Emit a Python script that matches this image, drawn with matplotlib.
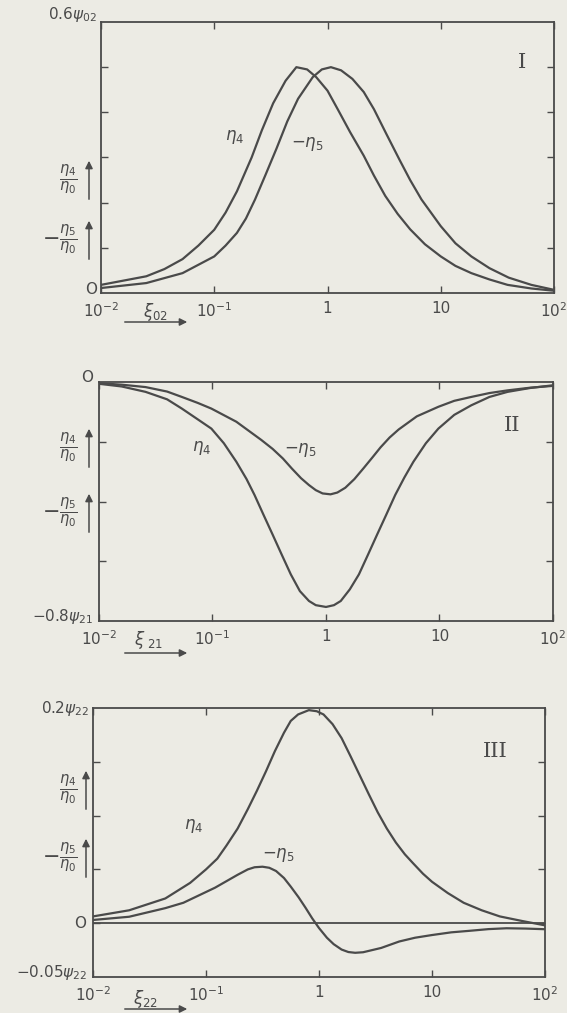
"""
Three panels of reduced viscosity functions eta4, -eta5 versus xi (log scale).
"""

import matplotlib.pyplot as plt
from matplotlib.patches import FancyArrowPatch

W, H = 567, 1013
BG = "#ecebe4"
INK = "#4a4a4a"

# x values are read as log10(xi) off the decade grid

# ---- panel I (units of psi_02)
lx_1_eta4 = [-2.0, -1.6, -1.44, -1.28, -1.14, -1.0, -0.9, -0.8, -0.67, -0.58, -0.48, -0.37,
             -0.275, -0.18, -0.1, 0.0, 0.09, 0.2, 0.32, 0.41, 0.51, 0.62, 0.73, 0.86, 1.0,
             1.13, 1.27, 1.43, 1.59, 1.8, 2.0]
eta4_1 = [0.018, 0.037, 0.053, 0.075, 0.105, 0.14, 0.178, 0.225, 0.30, 0.36, 0.42, 0.47,
          0.50, 0.495, 0.478, 0.448, 0.407, 0.356, 0.304, 0.26, 0.215, 0.175, 0.141, 0.108, 0.081,
          0.06, 0.044, 0.03, 0.018, 0.01, 0.005]
lx_1_eta5 = [-2.0, -1.6, -1.28, -1.0, -0.9, -0.8, -0.72, -0.64, -0.55, -0.45, -0.355, -0.26,
             -0.13, -0.05, 0.03, 0.12, 0.22, 0.32, 0.41, 0.52, 0.64, 0.73, 0.83, 1.0,
             1.13, 1.27, 1.43, 1.6, 1.8, 2.0]
meta5_1 = [0.011, 0.022, 0.044, 0.081, 0.105, 0.133, 0.165, 0.207, 0.26, 0.32, 0.38, 0.43,
           0.478, 0.495, 0.50, 0.493, 0.474, 0.445, 0.407, 0.352, 0.293, 0.25, 0.207, 0.148,
           0.11, 0.081, 0.055, 0.034, 0.018, 0.007]

# ---- panel II (units of psi_21)
lx_2_eta4 = [-2.0, -1.8, -1.59, -1.4, -1.27, -1.13, -1.01, -0.9, -0.79, -0.7, -0.63, -0.55,
             -0.47, -0.39, -0.31, -0.23, -0.15, -0.09, 0.0, 0.07, 0.13, 0.21, 0.29, 0.37,
             0.45, 0.53, 0.61, 0.69, 0.77, 0.88, 0.99, 1.13, 1.28, 1.44, 1.6, 1.8, 2.0]
eta4_2 = [-0.006, -0.015, -0.033, -0.058, -0.089, -0.125, -0.156, -0.205, -0.267, -0.325, -0.378,
          -0.445, -0.511, -0.578, -0.644, -0.70, -0.733, -0.747, -0.753, -0.747, -0.733, -0.694,
          -0.644, -0.578, -0.511, -0.445, -0.378, -0.32, -0.267, -0.205, -0.156, -0.11, -0.078,
          -0.05, -0.033, -0.02, -0.011]
lx_2_eta5 = [-2.0, -1.8, -1.59, -1.4, -1.27, -1.13, -1.01, -0.79, -0.57, -0.47, -0.38, -0.3,
             -0.22, -0.15, -0.09, -0.03, 0.04, 0.1, 0.17, 0.25, 0.33, 0.41, 0.48, 0.56, 0.64,
             0.8, 0.99, 1.13, 1.28, 1.44, 1.6, 1.8, 2.0]
meta5_2 = [-0.004, -0.009, -0.017, -0.032, -0.05, -0.07, -0.089, -0.133, -0.194, -0.224, -0.256,
           -0.29, -0.322, -0.345, -0.362, -0.373, -0.376, -0.370, -0.354, -0.325, -0.289, -0.252,
           -0.219, -0.186, -0.159, -0.115, -0.083, -0.063, -0.05, -0.037, -0.028, -0.019, -0.013]

# ---- panel III (units of psi_22)
lx_3_eta4 = [-2.0, -1.68, -1.36, -1.14, -1.0, -0.9, -0.82, -0.72, -0.63, -0.55, -0.47, -0.39,
             -0.31, -0.25, -0.185, -0.09, -0.02, 0.04, 0.12, 0.2, 0.28, 0.36, 0.44, 0.52, 0.6,
             0.68, 0.76, 0.83, 0.92, 1.0, 1.14, 1.28, 1.44, 1.6, 1.8, 2.0]
eta4_3 = [0.0063, 0.012, 0.023, 0.0375, 0.05, 0.06, 0.072, 0.088, 0.106, 0.123, 0.141, 0.16,
          0.177, 0.188, 0.194, 0.198, 0.197, 0.194, 0.185, 0.172, 0.155, 0.1375, 0.12, 0.103,
          0.088, 0.075, 0.064, 0.056, 0.046, 0.0385, 0.028, 0.019, 0.012, 0.0063, 0.002, -0.002]
lx_3_eta5 = [-2.0, -1.68, -1.36, -1.2, -1.05, -0.92, -0.82, -0.72, -0.63, -0.57, -0.5, -0.44,
             -0.38, -0.31, -0.25, -0.18, -0.12, -0.06, 0.0, 0.07, 0.13, 0.2, 0.26, 0.32, 0.39,
             0.47, 0.55, 0.63, 0.71, 0.85, 1.0, 1.17, 1.34, 1.5, 1.66, 1.83, 2.0]
meta5_3 = [0.003, 0.006, 0.014, 0.019, 0.0265, 0.033, 0.039, 0.045, 0.05, 0.052, 0.0525, 0.0515,
           0.0485, 0.042, 0.034, 0.024, 0.0145, 0.0045, -0.0045, -0.0135, -0.0195, -0.0245,
           -0.0268, -0.0275, -0.027, -0.025, -0.023, -0.02, -0.017, -0.0135, -0.011, -0.0085,
           -0.007, -0.0055, -0.0047, -0.005, -0.0056]

xticks = [0.01, 0.1, 1, 10, 100]
xtick_labels = [r"$10^{-2}$", r"$10^{-1}$", "1", "10", r"$10^{2}$"]


def px(x, y):
    return x / W, 1 - y / H


def xi(lx):
    return [10 ** v for v in lx]


def frame(rect, ylim, yticks):
    ax = fig.add_axes(rect)
    ax.set_facecolor(BG)
    ax.set_xscale("log")
    ax.set_xlim(0.01, 100)
    ax.set_ylim(*ylim)
    ax.set_xticks(xticks)
    ax.set_xticklabels(xtick_labels)
    ax.minorticks_off()
    ax.set_yticks(yticks)
    ax.set_yticklabels([])
    ax.tick_params(direction="in", top=True, right=True, length=5, width=1,
                   color=INK, labelcolor=INK, labelsize=11, pad=6)
    for s in ax.spines.values():
        s.set_color(INK)
        s.set_linewidth(1.3)
    return ax


def arrow(x0, y0, x1, y1):
    fig.add_artist(FancyArrowPatch(px(x0, y0), px(x1, y1), transform=fig.transFigure,
                                   arrowstyle="-|>", mutation_scale=11, color=INK, lw=1.1))


def ylabels(y_num1, y_num2, ax_x=89):
    # eta4/eta0 and -eta5/eta0 with upward arrows
    fig.text(*px(68, y_num1), r"$\frac{\eta_4}{\eta_0}$", fontsize=15, color=INK,
             ha="center", va="center")
    arrow(ax_x, y_num1 + 22, ax_x, y_num1 - 22)
    fig.text(*px(60, y_num2), r"$-\frac{\eta_5}{\eta_0}$", fontsize=15, color=INK,
             ha="center", va="center")
    arrow(ax_x, y_num2 + 22, ax_x, y_num2 - 22)


def xlabel(text, x, y, ya):
    fig.text(*px(x, y), text, fontsize=12, color=INK, ha="center", va="center")
    arrow(122, ya, 190, ya)


fig = plt.figure(figsize=(W / 100, H / 100), dpi=100, facecolor=BG)
lw = 1.6

# panel I
ax1 = frame([101 / W, 1 - 293 / H, 453 / W, 271 / H], (0, 0.6), [0.1, 0.2, 0.3, 0.4, 0.5])
ax1.plot(xi(lx_1_eta4), eta4_1, color=INK, lw=lw)
ax1.plot(xi(lx_1_eta5), meta5_1, color=INK, lw=lw)
ax1.text(0.15, 0.345, r"$\eta_4$", fontsize=12, color=INK, ha="center", va="center")
ax1.text(0.66, 0.33, r"$-\eta_5$", fontsize=12, color=INK, ha="center", va="center")
ax1.text(0.93, 0.85, "I", transform=ax1.transAxes, fontsize=15, color=INK,
         family="DejaVu Serif", ha="center", va="center")
fig.text(*px(97, 15), r"0.6$\psi_{02}$", fontsize=11, color=INK, ha="right", va="center")
fig.text(*px(91, 289), "O", fontsize=11, color=INK, ha="center", va="center")
ylabels(180, 240)
xlabel(r"$\xi_{02}$", 155, 312, 322)

# panel II
ax2 = frame([99 / W, 1 - 621 / H, 454 / W, 239 / H], (-0.8, 0), [-0.6, -0.4, -0.2])
ax2.plot(xi(lx_2_eta4), eta4_2, color=INK, lw=lw)
ax2.plot(xi(lx_2_eta5), meta5_2, color=INK, lw=lw)
ax2.text(0.08, -0.222, r"$\eta_4$", fontsize=12, color=INK, ha="center", va="center")
ax2.text(0.60, -0.228, r"$-\eta_5$", fontsize=12, color=INK, ha="center", va="center")
ax2.text(0.91, 0.82, "II", transform=ax2.transAxes, fontsize=15, color=INK,
         family="DejaVu Serif", ha="center", va="center")
fig.text(*px(87, 377), "O", fontsize=11, color=INK, ha="center", va="center")
fig.text(*px(93, 617), r"$-$0.8$\psi_{21}$", fontsize=11, color=INK, ha="right", va="center")
ylabels(448, 513)
xlabel(r"$\xi_{\ 21}$", 148, 640, 653)

# panel III
ax3 = frame([93 / W, 1 - 977 / H, 452 / W, 269 / H], (-0.05, 0.2), [0.0, 0.05, 0.1, 0.15])
ax3.axhline(0, color=INK, lw=1.3)
ax3.plot(xi(lx_3_eta4), eta4_3, color=INK, lw=lw)
ax3.plot(xi(lx_3_eta5), meta5_3, color=INK, lw=lw)
ax3.text(0.078, 0.09, r"$\eta_4$", fontsize=12, color=INK, ha="center", va="center")
ax3.text(0.44, 0.063, r"$-\eta_5$", fontsize=12, color=INK, ha="center", va="center")
ax3.text(0.89, 0.84, "III", transform=ax3.transAxes, fontsize=15, color=INK,
         family="DejaVu Serif", ha="center", va="center")
fig.text(*px(89, 708), r"0.2$\psi_{22}$", fontsize=11, color=INK, ha="right", va="center")
fig.text(*px(80, 923), "O", fontsize=11, color=INK, ha="center", va="center")
fig.text(*px(87, 972), r"$-$0.05$\psi_{22}$", fontsize=11, color=INK, ha="right", va="center")
ylabels(790, 858, ax_x=86)
xlabel(r"$\xi_{22}$", 145, 999, 1009)

fig.savefig("out.png", dpi=100, facecolor=BG)
